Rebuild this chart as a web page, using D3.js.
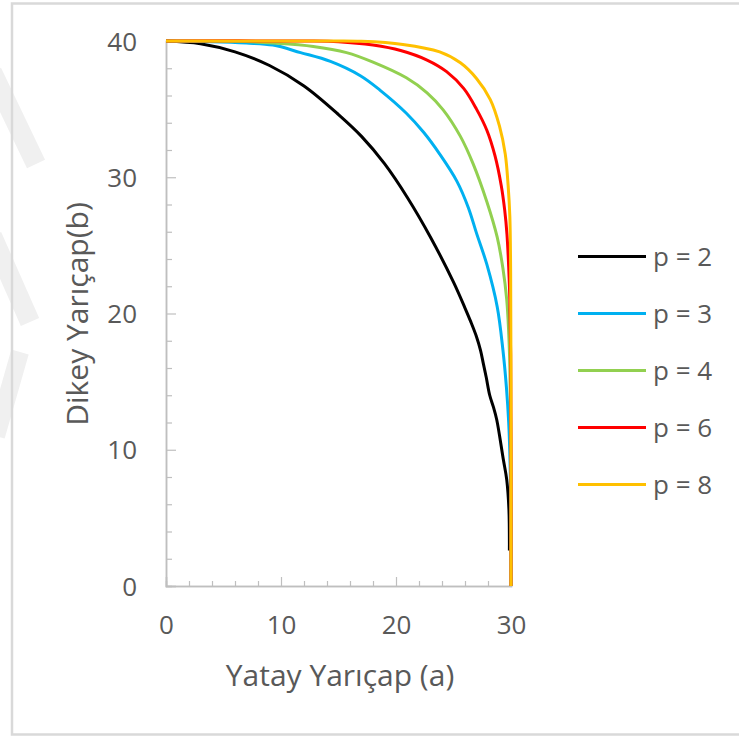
<!DOCTYPE html>
<html>
<head>
<meta charset="utf-8">
<script src="https://cdn.jsdelivr.net/npm/d3@7"></script>
<style>
  html, body { margin: 0; padding: 0; background: #ffffff; }
  svg { display: block; }
  text { font-family: "Open Sans", "Noto Sans", sans-serif; }
</style>
</head>
<body>
<svg id="chart" width="739" height="738"></svg>
<script>
// ---- data ----
const seriesNames = ["p = 2", "p = 3", "p = 4", "p = 6", "p = 8"];
const seriesColors = ["#000000", "#00b0f0", "#92d050", "#ff0000", "#ffc000"];

const p2 = [[0,40],[3,39.8],[6,39.2],[9,38.2],[12,36.7],[15,34.6],[17,33.0],[19,31.0],[21,28.5],
  [23,25.6],[25,22.3],[26,20.4],[26.5,19.4],[27,18.3],[27.35,17.3],[27.6,16.3],[27.85,15.3],
  [28.15,14.0],[28.46,13.16],[28.76,12.2],[29.33,9.3],[29.63,7.8],[29.82,5.6],[29.86,2.6]];
const p3 = [[0,40],[4,39.95],[7,39.85],[9.3,39.7],[11.7,39.15],[14.3,38.5],[16.9,37.45],[18.6,36.4],
  [20.9,34.7],[22.4,33.3],[23.8,31.7],[25.3,29.7],[26.3,27.75],[27.0,25.9],[27.9,23.6],[28.8,20.5],
  [29.3,17.3],[29.6,14.6],[29.8,12.0],[29.92,9],[29.98,5],[30,0]];
const p4 = [[0,40],[6,39.98],[9.3,39.85],[12.8,39.6],[15.7,39.15],[18.0,38.45],[20.9,37.3],[22.7,36.2],
  [24.1,34.95],[25.6,33.0],[26.7,31.0],[27.9,28.2],[28.8,25.6],[29.3,23.3],[29.63,21.0],[29.8,18.6],
  [29.9,16.1],[29.97,12],[30,6],[30,0]];
const p6 = [[0,40],[12,40],[15,39.95],[18.0,39.7],[20.4,39.3],[22.7,38.6],[24.4,37.75],[25.9,36.5],
  [27.0,35.0],[27.9,33.45],[28.6,31.6],[29.15,29.4],[29.45,27.6],[29.65,25.8],[29.8,23.4],[29.9,21.0],
  [29.97,17],[30,10],[30,0]];
const p8 = [[0,40],[14,40],[17,39.98],[20.6,39.75],[23.8,39.2],[25.6,38.4],[27.0,37.25],[28.2,35.7],
  [29.0,33.75],[29.5,31.7],[29.75,29.4],[29.9,27.1],[29.97,23],[30,15],[30,0]];
const seriesData = [p2, p3, p4, p6, p8];

const xMajorTicks = [0, 10, 20, 30];
const yMajorTicks = [0, 10, 20, 30, 40];
const xMinorTicks = [2,4,6,8,12,14,16,18,22,24,26,28];
const yMinorTicks = [2,4,6,8,12,14,16,18,22,24,26,28,32,34,36,38];
const xTitle = "Yatay Yarıçap (a)";
const yTitle = "Dikey Yarıçap(b)";

// ---- drawing ----
const svg = d3.select("#chart");

// faint watermark at the left edge
const wm = svg.append("g").attr("fill", "none").attr("stroke", "#f0f0f0").attr("stroke-linecap", "butt");
wm.append("path").attr("d", "M-8,72 L36,164").attr("stroke-width", 20);
wm.append("path").attr("d", "M-8,236 L30,322").attr("stroke-width", 20);
wm.append("path").attr("d", "M20,352 L-4,436").attr("stroke-width", 18);

// outer frame
svg.append("rect").attr("x", 12).attr("y", 3.5).attr("width", 760).attr("height", 731)
  .attr("fill", "none").attr("stroke", "#d9d9d9").attr("stroke-width", 2.5);

const x = d3.scaleLinear().domain([0, 30]).range([166, 511]);
const y = d3.scaleLinear().domain([0, 40]).range([586, 41]);

const axisColor = "#bfbfbf";
const labelColor = "#595959";

// minor ticks
const gxm = svg.append("g").attr("transform", `translate(0,${y(0)})`)
  .call(d3.axisBottom(x).tickValues(xMinorTicks).tickSize(-5).tickFormat(""));
const gym = svg.append("g").attr("transform", `translate(${x(0)},0)`)
  .call(d3.axisLeft(y).tickValues(yMinorTicks).tickSize(-6).tickFormat(""));
// major ticks with labels
const gx = svg.append("g").attr("transform", `translate(0,${y(0)})`)
  .call(d3.axisBottom(x).tickValues(xMajorTicks).tickSize(-9).tickPadding(29).tickFormat(d3.format("d")));
const gy = svg.append("g").attr("transform", `translate(${x(0)},0)`)
  .call(d3.axisLeft(y).tickValues(yMajorTicks).tickSize(-10).tickPadding(29).tickFormat(d3.format("d")));

[gxm, gym, gx, gy].forEach(g => {
  g.selectAll("path.domain").attr("stroke", axisColor).attr("stroke-width", 1.5);
  g.selectAll(".tick line").attr("stroke", axisColor).attr("stroke-width", 1.2);
  g.selectAll(".tick text").attr("fill", labelColor).style("font-size", "26px")
    .style("font-family", '"Open Sans", sans-serif');
});
gx.selectAll(".tick text").attr("dy", "0.35em").attr("y", 625 - 586);
gy.selectAll(".tick text").attr("dy", "0.35em");

// axis titles
svg.append("text").attr("x", 340).attr("y", 686).attr("text-anchor", "middle")
  .attr("fill", labelColor).style("font-size", "30px").text(xTitle);
svg.append("text").attr("transform", "translate(88,314) rotate(-90)").attr("text-anchor", "middle")
  .attr("fill", labelColor).style("font-size", "30px").text(yTitle);

// series lines
const line = d3.line().x(d => x(d[0])).y(d => y(d[1])).curve(d3.curveCatmullRom.alpha(0.5));
svg.append("g").selectAll("path.series").data(seriesData).join("path")
  .attr("class", "series")
  .attr("d", line)
  .attr("fill", "none")
  .attr("stroke", (d, i) => seriesColors[i])
  .attr("stroke-width", 3)
  .attr("stroke-linejoin", "round");

// legend
const legend = svg.append("g").selectAll("g").data(seriesNames).join("g")
  .attr("transform", (d, i) => `translate(0,${256.5 + i * 57})`);
legend.append("line").attr("x1", 578).attr("x2", 646).attr("y1", 0).attr("y2", 0)
  .attr("stroke", (d, i) => seriesColors[i]).attr("stroke-width", 3);
legend.append("text").attr("x", 653).attr("y", 0).attr("dy", "0.35em")
  .attr("fill", labelColor).style("font-size", "26px").text(d => d);
</script>
</body>
</html>
